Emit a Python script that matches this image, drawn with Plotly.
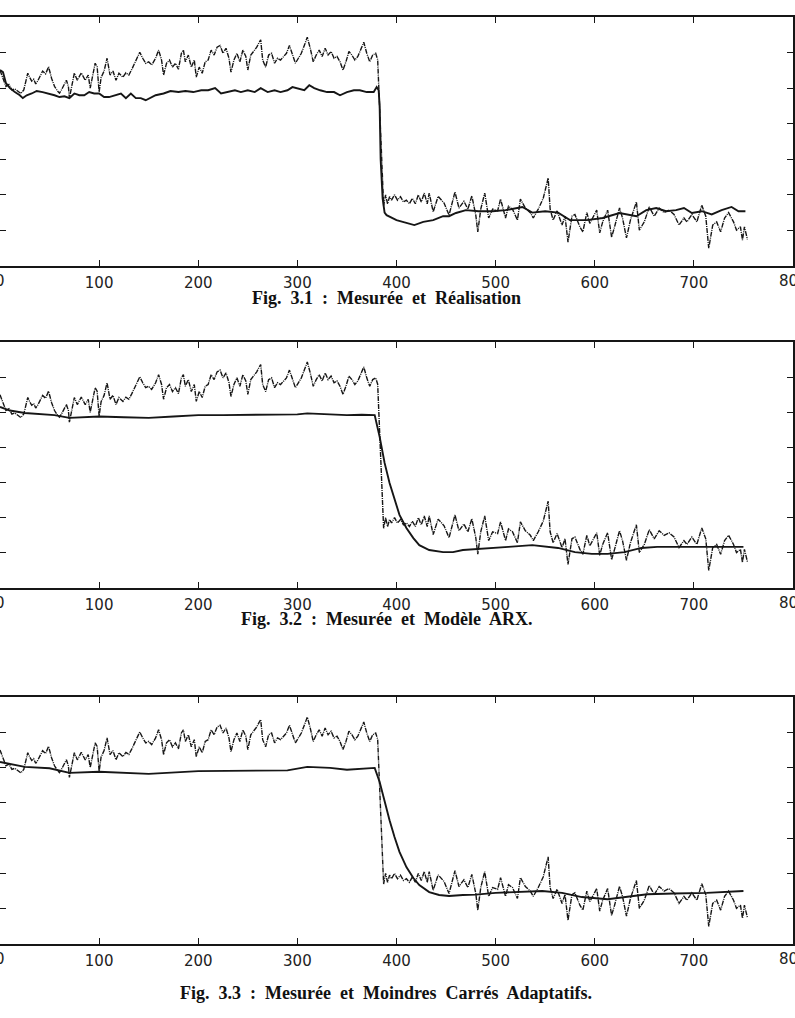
import plotly.graph_objects as go

# ---------------- data ----------------
meas_x = [0, 3, 6, 9, 12, 15, 18, 21, 24, 26, 28, 30, 32, 34, 36, 38, 40, 43, 46, 49, 52, 55, 58, 60, 62, 64, 67, 69, 70, 72,
          75, 78, 82, 86, 89, 91, 94, 96, 98, 100, 102, 105, 108, 111, 114, 117, 120, 124, 127, 130, 133, 136, 139, 141, 144,
          147, 150, 153, 157, 160, 163, 165, 168, 171, 174, 177, 180, 183, 185, 187, 190, 193, 196, 198, 201, 204, 207, 210,
          213, 216, 219, 222, 225, 228, 231, 233, 236, 239, 242, 245, 248, 250, 253, 256, 259, 261, 263, 265, 268, 271, 274,
          277, 280, 283, 286, 289, 292, 295, 298, 301, 304, 307, 310, 313, 316, 319, 322, 325, 328, 331, 334, 337, 340, 343,
          346, 349, 352, 355, 358, 361, 364, 367, 370, 373, 376, 379, 381,
          383, 385, 387, 389,
          391, 393, 395, 398, 401, 404, 407, 410, 413, 416, 419, 422, 425, 428, 431, 433, 437, 442, 448, 453, 459, 463, 468,
          472, 476, 480, 482, 485, 489, 493, 497, 502, 505, 510, 513, 517, 522, 525, 530, 535, 538, 543, 548, 553, 555, 558,
          562, 567, 570, 573, 577, 580, 585, 588, 592, 595, 602, 605, 608, 613, 617, 620, 625, 628, 632, 636, 642, 645, 650,
          655, 660, 665, 670, 675, 680, 685, 690, 693, 698, 703, 708, 712, 715, 719, 723, 727, 731, 735, 740, 743, 747, 749,
          751, 754]
meas_y = [5.50, 5.30, 5.05, 5.10, 4.95, 4.98, 4.92, 4.85, 4.95, 5.15, 5.42, 5.30, 5.20, 5.25, 5.12, 5.20, 5.31, 5.48, 5.40,
          5.60, 5.28, 5.05, 4.92, 4.86, 4.95, 5.05, 5.22, 5.05, 4.72, 5.00,
          5.42, 5.22, 5.43, 5.22, 5.37, 5.00, 5.48, 5.70, 5.60, 4.89, 5.30, 5.48, 5.84, 5.37, 5.48, 5.22, 5.42, 5.31, 5.43,
          5.37, 5.53, 5.70, 5.87, 6.01, 5.84,
          5.70, 5.74, 5.65, 5.84, 6.07, 5.79, 5.37, 5.70, 5.79, 5.59, 5.70, 5.53, 5.98, 6.07, 5.74, 5.93, 5.59, 5.79, 5.31,
          5.59, 5.42, 5.74, 5.79,
          6.07, 5.93, 6.15, 6.20, 5.98, 6.12, 5.84, 5.45, 5.79, 5.98, 5.74, 6.07, 5.89, 5.51, 5.93, 6.03, 6.15, 6.26, 6.36,
          5.79, 5.59, 5.93, 5.98,
          5.70, 5.84, 5.79, 5.89, 5.98, 6.20, 5.93, 5.70, 5.84, 5.98, 6.20, 6.43, 6.12, 5.74, 5.93, 6.07, 5.89, 6.12, 5.93,
          6.03, 5.84, 5.89, 5.74,
          5.51, 5.74, 6.03, 5.93, 5.79, 5.89, 6.07, 6.29, 5.98, 5.74, 5.93, 5.98, 5.80,
          4.40, 2.80, 1.70, 2.00,
          1.75, 1.95, 1.85, 2.00, 1.85, 1.95, 1.80, 1.85, 1.75, 1.90, 1.75, 2.00, 1.80, 2.05, 1.75, 2.05, 1.52, 1.96, 1.77,
          1.43, 2.08, 1.63, 1.82,
          1.60, 1.97, 1.43, 0.96, 1.60, 2.05, 1.35, 1.60, 1.55, 1.88, 1.35, 1.68, 1.60, 1.29, 1.88, 1.63, 1.50, 1.35, 1.60,
          1.90, 2.47, 1.60, 1.29,
          1.55, 1.15, 1.40, 0.67, 1.40, 1.45, 1.10, 0.96, 1.50, 1.20, 1.57, 0.93, 1.24, 1.57, 0.81, 1.10, 1.63, 1.35, 0.79,
          1.29, 1.80, 1.01, 1.24,
          1.66, 1.40, 1.63, 1.50, 1.57, 1.45, 1.15, 1.35, 1.24, 1.45, 1.24, 1.71, 1.40, 0.50, 1.15, 1.24, 0.96, 1.35, 1.50,
          1.24, 1.01, 1.10, 0.73,
          1.10, 0.75]

real_x = [0, 3, 6, 10, 15, 20, 23, 27, 32, 37, 43, 50, 55, 60, 65, 70, 75, 80, 85, 90, 95, 100, 105, 110, 117, 122, 127,
          132, 137, 142, 147, 152, 157, 165, 172, 180, 187, 195, 203, 210, 217, 223, 230, 237, 243, 250, 257, 263, 270, 277,
          283, 290, 295, 300, 307, 312, 317, 323, 330, 337, 343, 350, 357, 363, 370, 377, 380, 382, 383, 384, 385, 386, 388,
          390, 400, 413, 418, 427, 437, 447, 453, 460, 470, 483, 497, 510, 527, 537, 550, 563, 575, 592, 608, 625, 642, 652,
          662, 672, 682, 690, 698, 708, 718, 728, 738, 745, 752]
real_y = [5.51, 5.45, 5.14, 5.00, 4.89, 4.80, 4.72, 4.80, 4.85, 4.92, 4.89, 4.85, 4.80, 4.75, 4.77, 4.72, 4.85, 4.80, 4.80,
          4.89, 4.85, 4.85, 4.75, 4.75, 4.80, 4.85, 4.72,
          4.85, 4.72, 4.72, 4.66, 4.72, 4.80, 4.85, 4.92, 4.89, 4.92, 4.89, 4.94, 4.94, 5.00, 4.85, 4.89, 4.94, 4.89, 4.94,
          4.89, 5.00, 4.89, 4.94,
          4.89, 4.94, 5.03, 5.00, 4.94, 5.08, 5.00, 4.94, 4.89, 4.89, 4.80, 4.89, 4.94, 4.94, 4.89, 4.89, 5.03, 4.94, 4.50,
          3.00, 2.30, 1.90, 1.50,
          1.43, 1.29, 1.20, 1.15, 1.24, 1.29, 1.40, 1.40, 1.49, 1.57, 1.54, 1.54, 1.57, 1.66, 1.50, 1.54, 1.50, 1.29, 1.29,
          1.35, 1.49, 1.40, 1.57,
          1.63, 1.54, 1.57, 1.63, 1.49, 1.54, 1.45, 1.57, 1.66, 1.54, 1.54]

arx_x = [0, 10, 25, 40, 55, 70, 85, 100, 125, 150, 175, 200, 225, 250, 275, 300, 310, 325, 350, 365, 378, 383, 388, 393,
         398, 403, 410, 417, 423, 433, 447, 457, 467, 480, 497, 513, 537, 563, 580, 597, 613, 630, 647, 663, 680, 697, 713,
         730, 750]
arx_y = [5.15, 5.05, 4.98, 4.95, 4.92, 4.84, 4.86, 4.88, 4.86, 4.84, 4.88, 4.92, 4.92, 4.92, 4.93, 4.94, 4.97, 4.95, 4.92,
         4.93, 4.92, 4.30, 3.56, 2.99,
         2.50, 2.08, 1.71, 1.42, 1.22, 1.08, 1.02, 1.02, 1.08, 1.10, 1.14, 1.17, 1.22, 1.14, 1.02, 0.97, 0.97, 1.02, 1.14,
         1.17, 1.17, 1.17, 1.17,
         1.17, 1.17]

lsa_x = [0, 25, 50, 70, 100, 150, 200, 250, 290, 310, 333, 350, 378, 383, 388, 393, 398, 403, 410, 417, 423, 433, 443, 453,
         467, 480, 500, 547, 567, 587, 613, 633, 653, 680, 713, 750]
lsa_y = [5.16, 5.02, 4.98, 4.85, 4.88, 4.82, 4.90, 4.92, 4.92, 5.02, 4.99, 4.94, 4.99, 4.59, 4.02, 3.51, 3.03, 2.61, 2.18,
         1.87, 1.67, 1.47, 1.39, 1.36,
         1.39, 1.40, 1.45, 1.50, 1.45, 1.33, 1.27, 1.33, 1.41, 1.43, 1.45, 1.50]

x_ticks = [0, 100, 200, 300, 400, 500, 600, 700, 800]
y_ticks = [1, 2, 3, 4, 5, 6]
captions = ["Fig.  3.1  :  Mesurée  et  Réalisation",
            "Fig.  3.2  :  Mesurée  et  Modèle  ARX.",
            "Fig.  3.3  :  Mesurée  et  Moindres  Carrés  Adaptatifs."]

# ---------------- layout ----------------
W, H = 795, 1018
panels = [  # (top px, bottom px, caption y px, model series)
    (17, 266, 298, (real_x, real_y)),
    (342, 588, 619, (arx_x, arx_y)),
    (697, 944, 993, (lsa_x, lsa_y)),
]
ink = "#161616"
tick_font = dict(family="DejaVu Sans", size=15, color="#222")

fig = go.Figure()
layout = dict(width=W, height=H, margin=dict(l=0, r=0, t=0, b=0),
              paper_bgcolor="white", plot_bgcolor="white", showlegend=False,
              annotations=[])

for i, (top, bot, cap_y, (mx, my)) in enumerate(panels):
    n = "" if i == 0 else str(i + 1)
    fig.add_trace(go.Scatter(x=meas_x, y=meas_y, mode="lines", xaxis="x" + n, yaxis="y" + n,
                             line=dict(color=ink, width=1.4, dash="5px,1px,1px,1px")))
    fig.add_trace(go.Scatter(x=mx, y=my, mode="lines", xaxis="x" + n, yaxis="y" + n,
                             line=dict(color=ink, width=1.9)))
    dom = [1 - bot / H, 1 - top / H]
    layout["xaxis" + n] = dict(domain=[0, 1], range=[0, 800], anchor="y" + n,
                               tickvals=x_ticks[1:-1], ticktext=[str(v) for v in x_ticks[1:-1]],
                               ticks="inside", ticklen=6, tickwidth=1.3, tickcolor=ink,
                               showline=True, linecolor=ink, linewidth=1.8, mirror="ticks",
                               showgrid=False, zeroline=False, ticklabelstandoff=2,
                               tickfont=tick_font)
    layout["yaxis" + n] = dict(domain=dom, range=[0, 7], anchor="x" + n,
                               tickvals=y_ticks, showticklabels=False,
                               ticks="inside", ticklen=6, tickwidth=1.3, tickcolor=ink,
                               showline=True, linecolor=ink, linewidth=1.8, mirror="ticks",
                               showgrid=False, zeroline=False)
    # edge tick labels (0 and 800), cut by the page edges as in the original
    for v in (x_ticks[0], x_ticks[-1]):
        layout["annotations"].append(dict(text=str(v), xref="x" + n, yref="paper",
                                          x=v, y=1 - (bot + 15) / H, xanchor="center", yanchor="middle",
                                          showarrow=False, font=tick_font))
    layout["annotations"].append(dict(text="<b>" + captions[i] + "</b>", xref="paper", yref="paper",
                                      x=387 / W, y=1 - cap_y / H, xanchor="center", yanchor="middle",
                                      showarrow=False,
                                      font=dict(family="Liberation Serif", size=18, color="#111")))

fig.update_layout(**layout)
fig.write_html("out.html")
